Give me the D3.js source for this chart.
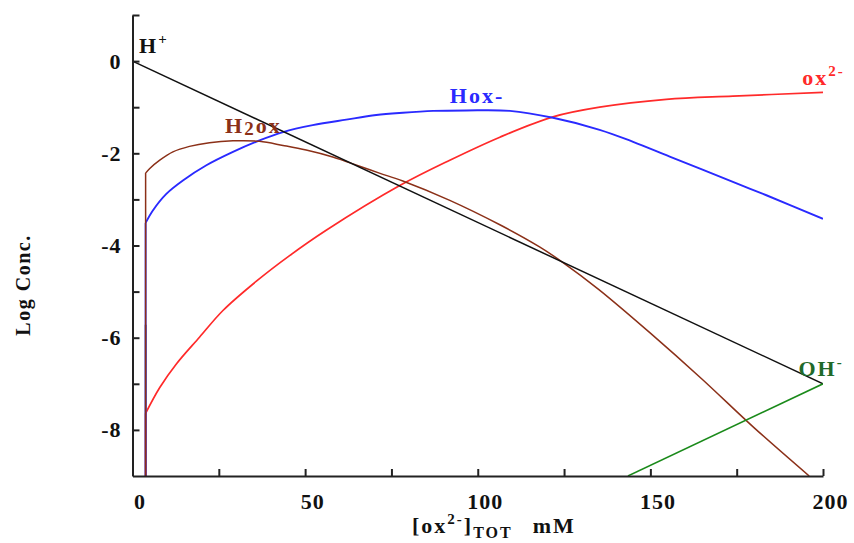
<!DOCTYPE html>
<html>
<head>
<meta charset="utf-8">
<script src="https://cdn.jsdelivr.net/npm/d3@7"></script>
<style>
  body { margin: 0; background: #fff; }
  text { font-family: "Liberation Serif", "DejaVu Serif", serif; }
</style>
</head>
<body>
<svg width="854" height="543"></svg>
<script>
// total oxalate, mM
const hX = [0, 200];
const hY = [0, -7];

const ohX = [143.5, 200];
const ohY = [-9, -7];

const h2oxX = [3.8, 3.8, 5.0, 7.9, 11.7, 16.5, 22.3, 29.1, 36.8, 43.6, 50.3, 58, 65.8, 71.5, 78.3, 91.9, 106.4, 117.9, 124.7, 135, 150, 165, 180, 196];
const h2oxY = [-9, -2.43, -2.33, -2.15, -1.97, -1.85, -1.77, -1.73, -1.74, -1.83, -1.93, -2.08, -2.28, -2.43, -2.60, -3.02, -3.55, -4.03, -4.37, -4.95, -5.9, -6.9, -7.95, -9.0];

const hoxX = [3.8, 3.8, 5.9, 9.8, 14.6, 21.4, 29.1, 36.8, 43.6, 52.2, 61.9, 70.6, 78.3, 87.1, 96.7, 109.3, 121.8, 135.3, 145, 155.6, 173.9, 183.6, 200];
const hoxY = [-9, -3.51, -3.24, -2.88, -2.59, -2.26, -1.97, -1.72, -1.54, -1.39, -1.27, -1.17, -1.12, -1.08, -1.07, -1.08, -1.23, -1.49, -1.75, -2.07, -2.62, -2.91, -3.42];

const oxX = [3.8, 3.8, 7.9, 12.7, 19.4, 26.2, 35.8, 45.5, 56.1, 77.4, 91.9, 106.4, 121.8, 135.3, 154.6, 173.9, 200];
const oxY = [-9, -7.64, -7.08, -6.57, -5.99, -5.41, -4.78, -4.22, -3.67, -2.70, -2.15, -1.65, -1.21, -1.00, -0.83, -0.76, -0.68];

// short black stub at the start
const stubX = [3.8, 3.8];
const stubY = [-9, -5.72];

const xTicks = d3.range(0, 201, 25);
const yTicks = d3.range(-8, 2, 1);

const svg = d3.select('svg');
const margin = {top: 15, right: 31, bottom: 67, left: 132.5};
const width = +svg.attr('width') - margin.left - margin.right;
const height = +svg.attr('height') - margin.top - margin.bottom;

const x = d3.scaleLinear().domain([0, 200]).range([0, width]);
const y = d3.scaleLinear().domain([-9, 1]).range([height, 0]);

const g = svg.append('g')
  .attr('transform', `translate(${margin.left},${margin.top})`);

g.append('clipPath').attr('id', 'clip')
  .append('rect').attr('width', width).attr('height', height);

const series = [
  {xs: stubX, ys: stubY, color: '#111', w: 1.6},
  {xs: oxX, ys: oxY, color: '#ff2a2a', w: 1.7},
  {xs: hoxX, ys: hoxY, color: '#2a2aff', w: 1.9},
  {xs: h2oxX, ys: h2oxY, color: '#8b3018', w: 1.5},
  {xs: hX, ys: hY, color: '#111', w: 1.5},
  {xs: ohX, ys: ohY, color: '#1a8a1a', w: 1.5}
];

const straight = d3.line()
  .x(d => x(d[0]))
  .y(d => y(d[1]));
const smooth = d3.line()
  .x(d => x(d[0]))
  .y(d => y(d[1]))
  .curve(d3.curveCatmullRom.alpha(0.5));

// vertical start drawn straight, the rest smoothed
function pathFor(d) {
  const pts = d.xs.map((v, i) => [v, d.ys[i]]);
  if (pts.length <= 2) return straight(pts);
  return straight(pts.slice(0, 2)) + smooth(pts.slice(1));
}

g.append('g').attr('clip-path', 'url(#clip)')
  .selectAll('path')
  .data(series)
  .enter().append('path')
    .attr('fill', 'none')
    .attr('stroke', d => d.color)
    .attr('stroke-width', d => d.w)
    .attr('stroke-linejoin', 'round')
    .attr('d', pathFor);

// axes
const xAxis = g.append('g')
  .attr('transform', `translate(0,${height})`)
  .call(d3.axisBottom(x)
    .tickValues(xTicks)
    .tickSize(-7)
    .tickSizeOuter(0)
    .tickPadding(17)
    .tickFormat(d => d % 50 === 0 ? d : ''));

const yAxis = g.append('g')
  .call(d3.axisLeft(y)
    .tickValues(yTicks)
    .tickSize(-7)
    .tickSizeOuter(0)
    .tickPadding(11)
    .tickFormat(d => d % 2 === 0 ? String(d) : ''));

[xAxis, yAxis].forEach(a => {
  a.select('.domain').attr('stroke', '#222').attr('stroke-width', 2);
  a.selectAll('.tick line').attr('stroke', '#222').attr('stroke-width', 2);
  a.selectAll('text')
    .attr('font-family', '"Liberation Serif", serif')
    .attr('font-size', 22)
    .attr('font-weight', 'bold')
    .attr('letter-spacing', 1)
    .attr('fill', '#111');
});
xAxis.selectAll('text').attr('dx', 7);

// species labels
function label(x0, y0, color, parts) {
  const t = g.append('text')
    .attr('x', x(x0))
    .attr('y', y(y0))
    .attr('fill', color)
    .attr('font-size', 22)
    .attr('font-weight', 'bold')
    .attr('letter-spacing', 2);
  parts.forEach(p => {
    t.append('tspan')
      .attr('dy', p.dy || 0)
      .attr('font-size', p.size || 22)
      .text(p.t);
  });
}

label(1.9, 0.17, '#111', [{t: 'H'}, {t: '+', dy: -9, size: 15}]);
label(26.8, -1.57, '#8b3018', [{t: 'H'}, {t: '2', dy: 2, size: 19}, {t: 'ox', dy: -2}]);
label(91.9, -0.91, '#2a2aff', [{t: 'Hox-'}]);
label(194, -0.52, '#ff2a2a', [{t: 'ox'}, {t: '2-', dy: -9, size: 15}]);
label(192.9, -6.83, '#1f6a2a', [{t: 'OH'}, {t: '-', dy: -9, size: 15}]);

// axis titles
svg.append('text')
  .attr('transform', 'translate(30,285) rotate(-90)')
  .attr('text-anchor', 'middle')
  .attr('font-size', 20)
  .attr('font-weight', 'bold')
  .attr('letter-spacing', 1.5)
  .attr('fill', '#111')
  .text('Log Conc.');

const xt = svg.append('text')
  .attr('x', 412)
  .attr('y', 533)
  .attr('font-size', 22)
  .attr('font-weight', 'bold')
  .attr('letter-spacing', 2)
  .attr('fill', '#111');
xt.append('tspan').text('[ox');
xt.append('tspan').attr('dy', -9).attr('font-size', 15).text('2-');
xt.append('tspan').attr('dy', 9).text(']');
xt.append('tspan').attr('dy', 5).attr('font-size', 16).text('TOT');
xt.append('tspan').attr('dy', -5).attr('dx', 20).text('mM');
</script>
</body>
</html>
